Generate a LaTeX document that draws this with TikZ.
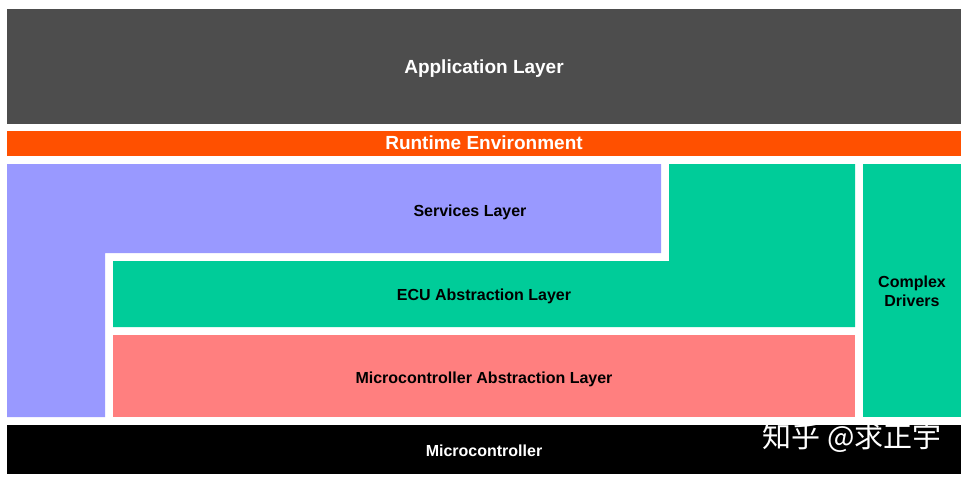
\documentclass[tikz,border=0pt]{standalone}
\usepackage{fontspec}
\setmainfont{Liberation Sans}
\newfontfamily\cjk{Noto Sans CJK SC}
\usepackage{tikz}
\usetikzlibrary{positioning}

\definecolor{appgray}{HTML}{4D4D4D}
\definecolor{rteorange}{HTML}{FF5000}
\definecolor{svclilac}{HTML}{9999FF}
\definecolor{ecugreen}{HTML}{00CC99}
\definecolor{mcalpink}{HTML}{FF7F7F}

\begin{document}
\begin{tikzpicture}
  [
    x=1pt, y=-1pt,
    Big/.style={anchor=base, font=\fontsize{19}{22}\selectfont\bfseries, text=white},
    Dark/.style={anchor=base, font=\fontsize{16}{19}\selectfont\bfseries, text=black},
    Light/.style={anchor=base, font=\fontsize{16}{19}\selectfont\bfseries, text=white},
    Twoline/.style={font=\fontsize{16}{19}\selectfont\bfseries, text=black, align=center},
    Mark/.style={font=\cjk\fontsize{29}{31}\selectfont, text=white}
  ]
  \fill[white] (0,0) rectangle (969,479);
  \useasboundingbox (0,0) rectangle (969,479);

  % Layers
  \fill[appgray] (7,9) rectangle (961,124);

  \fill[rteorange] (7,131) rectangle (961,156);

  \fill[svclilac] (7,164) -- (661,164) -- (661,253) -- (105,253) -- (105,417) -- (7,417) -- cycle;

  \fill[ecugreen] (669,164) -- (855,164) -- (855,327) -- (113,327) -- (113,261) -- (669,261) -- cycle;

  \fill[mcalpink] (113,335) rectangle (855,417);

  \fill[ecugreen] (863,164) rectangle (961,417);

  \fill[black] (7,425) rectangle (961,474);

  % Labels
  \node[Big] (app) at (484,73) {Application Layer};

  \node[Big] (rte) at (484,149) {Runtime Environment};

  \node[Dark] (svc) at (470,216) {Services Layer};

  \node[Dark] (ecu) at (484,300.5) {ECU Abstraction Layer};

  \node[Dark] (mcal) at (484,383) {Microcontroller Abstraction Layer};

  \node[Twoline] (cdd) at (912,291) {Complex\\Drivers};

  \node[Light] (mcu) at (484,456) {Microcontroller};

  \node[Mark] (mark) at (852,437.5) {知乎 @求正宇};

\end{tikzpicture}
\end{document}
